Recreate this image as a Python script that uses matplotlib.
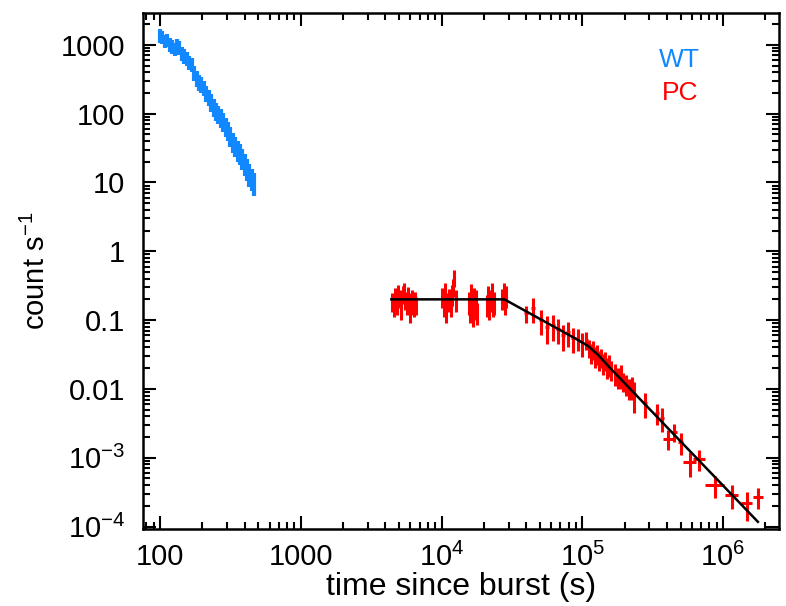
import math
import matplotlib
matplotlib.use('Agg')
import matplotlib.pyplot as plt
from matplotlib.ticker import LogLocator, FuncFormatter, NullFormatter

plt.rcParams['font.family'] = ['Liberation Sans', 'DejaVu Sans']
plt.rcParams['mathtext.fontset'] = 'custom'
plt.rcParams['mathtext.rm'] = 'Liberation Sans'
plt.rcParams['mathtext.it'] = 'Liberation Sans:italic'
plt.rcParams['mathtext.default'] = 'regular'

# WT mode light curve
wt_t = [100, 104, 108, 112, 117, 122, 127, 132, 137, 143, 149, 155, 161, 168, 175,
        182, 189, 197, 205, 213, 222, 231, 240, 250, 260, 270, 281, 292, 304, 316,
        329, 342, 356, 370, 385, 400, 416, 432, 449, 467]
wt_terr = [3, 3, 3, 3.5, 3.5, 3.5, 3.5, 3.5, 4, 4, 4, 4.5, 4.5, 5, 5,
           5, 5.5, 5.5, 6, 6, 6.5, 6.5, 7, 7, 7.5, 7.5, 8, 8, 8.5, 9,
           9, 9.5, 10, 10, 10.5, 11, 11, 11.5, 12, 12]
wt_rate = [1380, 1300, 1150, 1200, 1020, 950, 880, 1000, 920, 760, 700, 640, 560, 520, 400,
           330, 290, 270, 240, 200, 175, 150, 125, 110, 100, 88, 78, 66, 58, 49,
           40, 35, 30, 27, 23, 19, 16, 13.5, 11.5, 10]
wt_err = [300, 280, 260, 260, 230, 210, 200, 220, 200, 175, 165, 150, 130, 120, 100,
          85, 76, 70, 62, 54, 48, 43, 37, 33, 30, 27, 24, 21, 18.5, 16,
          13, 11.5, 10, 9, 7.8, 6.5, 5.6, 4.8, 4.1, 3.6]

# PC mode light curve
pc_t = [4450, 4570, 4690, 4810, 4930, 5050, 5170, 5290, 5410, 5530, 5650, 5770, 5890,
        6010, 6130, 6250, 6370, 6490, 6610,
        10100, 10350, 10600, 10850, 11100, 11350, 11600, 11850, 12100, 12350, 12600,
        15600, 15900, 16200, 16500, 16800, 17100, 17400, 17700, 18000,
        21100, 21500, 21900, 22300, 22700, 23100, 23500,
        27000, 27600, 28200, 28800,
        40000, 45000, 51000, 56000, 62000, 67000, 73000, 79000, 86000, 93000, 100000, 107000,
        112000, 116000, 120000, 124000, 128000, 132000, 136000, 140000, 145000, 150000,
        155000, 160000, 172000, 180000, 188000, 196000, 205000, 215000, 225000,
        235000, 280000, 340000, 370000, 410000, 450000, 500000,
        580000, 680000, 880000, 1160000, 1480000, 1770000]
pc_terr = [60] * 19 + [125] * 11 + [150] * 9 + [200] * 7 + [300] * 4 + \
          [1500, 1500, 1800, 1800, 2000, 2000, 2200, 2200, 2500, 2500, 2500, 2500,
           2000, 2000, 2000, 2000, 2000, 2000, 2000, 2000, 2500, 2500,
           2500, 2500, 4000, 4000, 4000, 4000, 5000, 5000, 5000,
           6000, 9000, 12000, 14000, 37000, 18000, 20000,
           60000, 70000, 140000, 120000, 140000, 140000]
pc_rate = [0.19, 0.16, 0.22, 0.18, 0.25, 0.21, 0.15, 0.24, 0.27, 0.20, 0.17, 0.23, 0.19,
           0.14, 0.21, 0.18, 0.16, 0.20, 0.17,
           0.22, 0.17, 0.26, 0.14, 0.19, 0.21, 0.16, 0.24, 0.31, 0.42, 0.20,
           0.19, 0.14, 0.24, 0.17, 0.12, 0.21, 0.16, 0.20, 0.13,
           0.17, 0.23, 0.15, 0.20, 0.26, 0.16, 0.19,
           0.21, 0.25, 0.18, 0.23,
           0.125, 0.15, 0.10, 0.080, 0.085, 0.075, 0.060, 0.068, 0.055, 0.055, 0.047, 0.052,
           0.040, 0.034, 0.038, 0.030, 0.033, 0.027, 0.029, 0.024, 0.026, 0.021,
           0.023, 0.019, 0.017, 0.015, 0.016, 0.013, 0.012, 0.0105, 0.011,
           0.0085, 0.0062, 0.0045, 0.0038, 0.0019, 0.0024, 0.0017,
           8.7e-4, 9.6e-4, 4.0e-4, 2.9e-4, 2.2e-4, 2.7e-4]
pc_err = [0.06, 0.05, 0.07, 0.06, 0.07, 0.06, 0.05, 0.07, 0.08, 0.06, 0.05, 0.07, 0.06,
          0.05, 0.06, 0.06, 0.05, 0.06, 0.05,
          0.07, 0.06, 0.08, 0.05, 0.06, 0.07, 0.05, 0.08, 0.09, 0.12, 0.07,
          0.07, 0.05, 0.09, 0.06, 0.04, 0.08, 0.06, 0.07, 0.045,
          0.06, 0.08, 0.05, 0.07, 0.08, 0.05, 0.07,
          0.07, 0.09, 0.06, 0.08,
          0.035, 0.06, 0.04, 0.035, 0.035, 0.03, 0.025, 0.027, 0.022, 0.02, 0.018, 0.015,
          0.012, 0.011, 0.012, 0.010, 0.011, 0.009, 0.009, 0.008, 0.008, 0.007,
          0.008, 0.006, 0.006, 0.005, 0.006, 0.004, 0.004, 0.0035, 0.004,
          0.004, 0.0024, 0.0015, 0.0014, 0.0006, 0.0007, 0.0006,
          3.5e-4, 3.2e-4, 1.4e-4, 1.1e-4, 1.0e-4, 0.9e-4]

# broken power-law model
model_t = [4400, 28000, 90000, 110000, 130000, 160000, 1770000]
model_rate = [0.20, 0.20, 0.0535, 0.042, 0.031, 0.0195, 1.17e-4]

# major tick values
x_ticks = [100, 1000, 1e4, 1e5, 1e6]
y_ticks = [1e-4, 1e-3, 0.01, 0.1, 1, 10, 100, 1000]

fig = plt.figure(figsize=(7.86, 6.06), dpi=100)
ax = fig.add_axes([143 / 786, 1 - 529 / 606, 636 / 786, 516 / 606])

ax.errorbar(wt_t, wt_rate, xerr=wt_terr, yerr=wt_err, fmt='none',
            ecolor='#1188ff', elinewidth=3.0, capsize=0)
ax.errorbar(pc_t, pc_rate, xerr=pc_terr, yerr=pc_err, fmt='none',
            ecolor='red', elinewidth=2.2, capsize=0)
ax.plot(model_t, model_rate, color='black', linewidth=1.8)

ax.set_xscale('log')
ax.set_yscale('log')


def fmt_y(v, pos):
    if 0.005 < v < 5000:
        if v >= 1:
            return '%d' % round(v)
        return '%g' % v
    return r'$10^{%d}$' % round(math.log10(v))


def fmt_x(v, pos):
    if v <= 1000:
        return '%d' % round(v)
    return r'$10^{%d}$' % round(math.log10(v))


ax.set_xticks(x_ticks)
ax.set_yticks(y_ticks)
ax.xaxis.set_minor_locator(LogLocator(base=10, subs=range(2, 10), numticks=20))
ax.yaxis.set_minor_locator(LogLocator(base=10, subs=range(2, 10), numticks=20))
ax.xaxis.set_major_formatter(FuncFormatter(fmt_x))
ax.yaxis.set_major_formatter(FuncFormatter(fmt_y))
ax.xaxis.set_minor_formatter(NullFormatter())
ax.yaxis.set_minor_formatter(NullFormatter())
ax.set_xlim(75.7, 2.5e6)
ax.set_ylim(9.2e-5, 2900)

ax.tick_params(which='both', direction='in', top=True, right=True, width=1.5)
ax.tick_params(which='major', length=9.5, labelsize=21)
ax.tick_params(axis='y', which='major', pad=13)
ax.tick_params(axis='x', which='major', pad=10)
ax.tick_params(which='minor', length=5)
for s in ax.spines.values():
    s.set_linewidth(1.8)

ax.set_xlabel('time since burst (s)', fontsize=23, labelpad=0)
ax.set_ylabel('count s$^{-1}$', fontsize=21, labelpad=7)

ax.text(0.844, 0.909, 'WT', color='#1188ff', fontsize=19, transform=ax.transAxes,
        ha='center', va='center')
ax.text(0.844, 0.845, 'PC', color='red', fontsize=19, transform=ax.transAxes,
        ha='center', va='center')

fig.savefig('out.png', dpi=100)
